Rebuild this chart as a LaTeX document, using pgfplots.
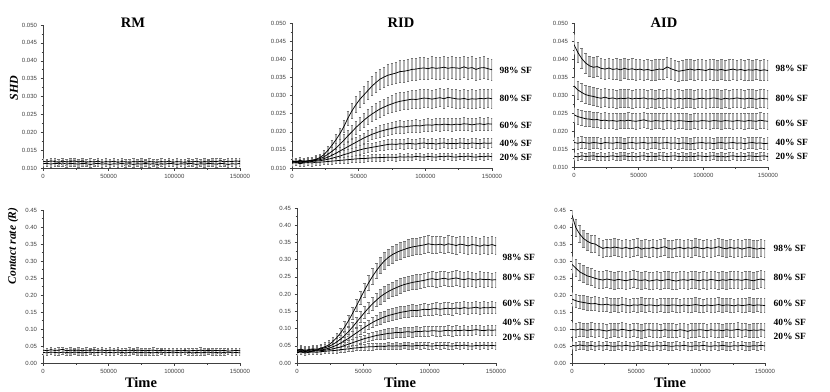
\documentclass[border=0pt]{standalone}
\usepackage{fontspec}
\setmainfont{Liberation Serif}
\newfontfamily\ticksf{Liberation Sans}
\usepackage{pgfplots}
\usepackage{pgfplotstable}
\pgfplotsset{compat=1.18}

\tikzset{barcol/.style={draw=black!30, line width=2.2pt},
         capcol/.style={draw=black!55, line width=0.5pt}}
\pgfplotsset{
  panel/.style={
    scale only axis,
    axis x line*=bottom, axis y line*=left,
    axis line style={black!75, line width=0.5pt},
    xmin=0, xmax=150000,
    xtick={0,50000,100000,150000},
    minor x tick num=1, minor y tick num=1,
    tick align=outside,
    tick style={black!75, line width=0.4pt},
    major tick length=2.5pt, minor tick length=1.5pt,
    scaled x ticks=false, scaled y ticks=false,
    tick label style={font=\ticksf\fontsize{6}{7}\selectfont, text=black!75},
    xticklabel style={/pgf/number format/.cd, fixed, 1000 sep={}, assume math mode=true},
  },
  shd/.style={panel, ymin=0.010, ymax=0.050,
    ytick={0.010,0.015,0.020,0.025,0.030,0.035,0.040,0.045,0.050},
    yticklabel style={/pgf/number format/.cd, fixed, fixed zerofill, precision=3, assume math mode=true}},
  cr/.style={panel, ymin=0, ymax=0.45,
    ytick={0,0.05,0.10,0.15,0.20,0.25,0.30,0.35,0.40,0.45},
    yticklabel style={/pgf/number format/.cd, fixed, fixed zerofill, precision=2, assume math mode=true}},
  bandx/.style={forget plot, draw=none, mark=none,
    error bars/.cd, y dir=both, y explicit,
    error bar style={barcol}, error mark options={rotate=90, capcol, mark size=1.3pt}},
  bandf/.style={forget plot, draw=none, mark=none,
    error bars/.cd, y dir=both, y fixed=#1,
    error bar style={barcol}, error mark options={rotate=90, capcol, mark size=1.3pt}},
  mean/.style={black, line width=0.75pt, mark=none},
}

% RM: two runs per measure (a,b = SHD; c,d = contact rate)
\pgfplotstableread{
x a b c d
0 .0119 .0112 .038 .031
3000 .0117 .0113 .036 .030
6000 .0120 .0111 .039 .032
9000 .0118 .0113 .037 .031
12000 .0116 .0112 .038 .030
15000 .0119 .0114 .040 .032
18000 .0117 .0111 .036 .031
21000 .0118 .0113 .038 .030
24000 .0120 .0112 .037 .032
27000 .0117 .0111 .038 .031
30000 .0119 .0113 .036 .030
33000 .0116 .0112 .038 .031
36000 .0118 .0110 .037 .032
39000 .0117 .0112 .039 .030
42000 .0119 .0113 .037 .031
45000 .0116 .0111 .038 .032
48000 .0118 .0112 .036 .030
51000 .0117 .0110 .038 .031
54000 .0119 .0112 .037 .030
57000 .0116 .0111 .038 .032
60000 .0118 .0113 .036 .031
63000 .0117 .0111 .037 .030
66000 .0116 .0112 .038 .031
69000 .0118 .0110 .036 .032
72000 .0117 .0112 .038 .030
75000 .0119 .0111 .037 .031
78000 .0116 .0113 .036 .030
81000 .0118 .0111 .037 .031
84000 .0117 .0112 .038 .030
87000 .0116 .0110 .036 .031
90000 .0118 .0112 .037 .032
93000 .0117 .0111 .036 .030
96000 .0119 .0113 .037 .031
99000 .0116 .0112 .035 .030
102000 .0118 .0110 .037 .031
105000 .0117 .0112 .036 .030
108000 .0116 .0111 .037 .032
111000 .0118 .0113 .035 .031
114000 .0117 .0112 .037 .030
117000 .0119 .0110 .036 .031
120000 .0116 .0112 .038 .030
123000 .0118 .0111 .036 .031
126000 .0117 .0113 .037 .032
129000 .0119 .0112 .036 .030
132000 .0118 .0111 .037 .031
135000 .0120 .0113 .036 .030
138000 .0117 .0112 .037 .031
141000 .0119 .0110 .035 .032
144000 .0118 .0112 .036 .030
147000 .0120 .0111 .037 .031
150000 .0118 .0113 .036 .030
}\rmdata

% RID, SHD: mean and sd for 98/80/60/40/20% SF
\pgfplotstableread{
x y98 e98 y80 e80 y60 e60 y40 e40 y20 e20
0 .0118 .0009 .0120 .0009 .0117 .0009 .0115 .0009 .0113 .0008
3000 .0116 .0009 .0118 .0009 .0119 .0009 .0117 .0009 .0115 .0008
6000 .0119 .0009 .0121 .0009 .0116 .0009 .0114 .0009 .0112 .0008
9000 .0117 .0009 .0119 .0009 .0118 .0009 .0116 .0009 .0114 .0008
12000 .0119 .0009 .0120 .0009 .0119 .0009 .0117 .0009 .0115 .0008
15000 .0121 .0010 .0122 .0009 .0120 .0009 .0118 .0009 .0114 .0008
18000 .0124 .0010 .0123 .0010 .0121 .0009 .0119 .0009 .0116 .0008
21000 .0129 .0010 .0126 .0010 .0123 .0009 .0120 .0009 .0116 .0008
24000 .0137 .0011 .0131 .0010 .0126 .0010 .0122 .0009 .0117 .0008
27000 .0149 .0012 .0138 .0011 .0130 .0010 .0124 .0009 .0118 .0008
30000 .0163 .0013 .0146 .0012 .0135 .0010 .0127 .0010 .0119 .0008
33000 .0178 .0014 .0155 .0013 .0141 .0011 .0130 .0010 .0120 .0008
36000 .0195 .0016 .0166 .0014 .0147 .0011 .0133 .0010 .0121 .0009
39000 .0215 .0017 .0177 .0015 .0153 .0012 .0137 .0011 .0122 .0009
42000 .0238 .0019 .0189 .0016 .0159 .0012 .0140 .0011 .0123 .0009
45000 .0258 .0021 .0200 .0017 .0165 .0013 .0144 .0011 .0124 .0009
48000 .0275 .0022 .0212 .0018 .0171 .0013 .0147 .0011 .0125 .0009
51000 .0290 .0023 .0222 .0019 .0177 .0014 .0150 .0012 .0126 .0009
54000 .0302 .0024 .0232 .0020 .0183 .0014 .0153 .0012 .0126 .0009
57000 .0314 .0025 .0241 .0020 .0188 .0015 .0155 .0012 .0127 .0009
60000 .0326 .0026 .0249 .0021 .0193 .0015 .0157 .0012 .0128 .0009
63000 .0336 .0027 .0256 .0022 .0197 .0015 .0159 .0012 .0128 .0009
66000 .0345 .0028 .0263 .0022 .0201 .0016 .0161 .0013 .0129 .0009
69000 .0351 .0028 .0268 .0023 .0204 .0016 .0163 .0013 .0129 .0009
72000 .0356 .0029 .0273 .0023 .0207 .0016 .0165 .0013 .0130 .0009
75000 .0359 .0029 .0277 .0024 .0209 .0016 .0166 .0013 .0130 .0009
78000 .0362 .0029 .0281 .0024 .0212 .0016 .0165 .0013 .0129 .0009
81000 .0366 .0030 .0284 .0024 .0214 .0017 .0167 .0013 .0131 .0009
84000 .0367 .0030 .0286 .0024 .0213 .0017 .0166 .0013 .0130 .0009
87000 .0369 .0030 .0288 .0025 .0215 .0017 .0168 .0013 .0131 .0009
90000 .0372 .0030 .0290 .0025 .0216 .0017 .0167 .0013 .0130 .0009
93000 .0373 .0030 .0289 .0025 .0217 .0017 .0166 .0013 .0132 .0009
96000 .0375 .0030 .0291 .0025 .0216 .0017 .0168 .0013 .0131 .0009
99000 .0376 .0030 .0293 .0025 .0218 .0017 .0169 .0013 .0130 .0009
102000 .0374 .0030 .0292 .0025 .0219 .0017 .0167 .0013 .0132 .0009
105000 .0377 .0030 .0290 .0025 .0218 .0017 .0168 .0013 .0131 .0009
108000 .0375 .0030 .0292 .0025 .0220 .0017 .0166 .0013 .0130 .0009
111000 .0376 .0030 .0294 .0025 .0219 .0017 .0168 .0013 .0132 .0009
114000 .0378 .0030 .0291 .0025 .0221 .0017 .0169 .0013 .0131 .0009
117000 .0375 .0030 .0295 .0025 .0220 .0017 .0167 .0013 .0133 .0009
120000 .0377 .0030 .0293 .0025 .0219 .0017 .0168 .0013 .0131 .0009
123000 .0376 .0030 .0291 .0025 .0221 .0017 .0167 .0013 .0130 .0009
126000 .0375 .0030 .0290 .0025 .0220 .0017 .0169 .0013 .0132 .0009
129000 .0379 .0030 .0292 .0025 .0222 .0017 .0168 .0013 .0131 .0009
132000 .0375 .0030 .0289 .0025 .0221 .0017 .0167 .0013 .0133 .0009
135000 .0377 .0030 .0291 .0025 .0219 .0017 .0169 .0013 .0131 .0009
138000 .0372 .0030 .0290 .0025 .0221 .0017 .0168 .0013 .0130 .0009
141000 .0376 .0030 .0292 .0025 .0222 .0017 .0167 .0013 .0132 .0009
144000 .0377 .0030 .0291 .0025 .0220 .0017 .0169 .0013 .0131 .0009
147000 .0374 .0030 .0293 .0025 .0222 .0017 .0168 .0013 .0133 .0009
150000 .0371 .0030 .0291 .0025 .0221 .0017 .0169 .0013 .0131 .0009
}\ridshd

% RID, contact rate
\pgfplotstableread{
x y98 e98 y80 e80 y60 e60 y40 e40 y20 e20
0 .038 .011 .036 .010 .034 .009 .032 .008 .030 .007
3000 .040 .011 .038 .010 .036 .009 .034 .008 .032 .007
6000 .037 .011 .035 .010 .033 .009 .031 .008 .029 .007
9000 .039 .011 .037 .010 .035 .009 .033 .008 .031 .007
12000 .041 .011 .039 .010 .036 .009 .034 .008 .032 .007
15000 .040 .011 .038 .010 .037 .009 .035 .008 .031 .007
18000 .043 .012 .041 .010 .038 .009 .036 .008 .033 .007
21000 .047 .012 .044 .011 .040 .009 .037 .008 .034 .007
24000 .053 .012 .048 .011 .043 .010 .039 .009 .035 .007
27000 .062 .013 .054 .011 .047 .010 .041 .009 .036 .008
30000 .074 .013 .061 .012 .052 .010 .044 .009 .037 .008
33000 .088 .014 .070 .012 .058 .011 .047 .009 .039 .008
36000 .105 .015 .080 .013 .065 .011 .051 .010 .040 .008
39000 .124 .016 .092 .013 .072 .012 .055 .010 .041 .008
42000 .145 .017 .105 .014 .080 .012 .059 .010 .043 .008
45000 .167 .018 .119 .015 .088 .013 .063 .011 .044 .008
48000 .190 .019 .133 .016 .096 .013 .067 .011 .045 .009
51000 .212 .020 .147 .017 .104 .014 .071 .011 .046 .009
54000 .233 .021 .160 .017 .111 .014 .074 .012 .047 .009
57000 .252 .022 .172 .018 .118 .015 .077 .012 .047 .009
60000 .269 .022 .183 .019 .124 .015 .080 .012 .048 .009
63000 .284 .024 .193 .021 .129 .017 .082 .014 .049 .009
66000 .297 .024 .201 .021 .134 .017 .084 .014 .048 .009
69000 .307 .024 .208 .021 .138 .017 .086 .014 .050 .009
72000 .315 .024 .214 .021 .141 .017 .087 .014 .049 .009
75000 .321 .024 .219 .021 .144 .017 .089 .014 .050 .009
78000 .326 .024 .224 .021 .147 .017 .088 .014 .049 .009
81000 .330 .024 .228 .021 .149 .017 .090 .014 .051 .009
84000 .334 .024 .231 .021 .151 .017 .091 .014 .050 .009
87000 .337 .024 .234 .021 .153 .017 .089 .014 .049 .009
90000 .339 .024 .236 .021 .152 .017 .092 .014 .051 .009
93000 .341 .024 .238 .021 .154 .017 .091 .014 .050 .009
96000 .343 .024 .240 .021 .156 .017 .093 .014 .052 .009
99000 .346 .024 .243 .021 .155 .017 .092 .014 .050 .009
102000 .344 .024 .245 .021 .157 .017 .094 .014 .049 .009
105000 .343 .024 .242 .021 .158 .017 .093 .014 .051 .009
108000 .345 .024 .244 .021 .156 .017 .092 .014 .050 .009
111000 .342 .024 .246 .021 .158 .017 .094 .014 .052 .009
114000 .346 .024 .243 .021 .159 .017 .095 .014 .050 .009
117000 .344 .024 .245 .021 .157 .017 .093 .014 .049 .009
120000 .341 .024 .247 .021 .160 .017 .095 .014 .051 .009
123000 .345 .024 .244 .021 .158 .017 .094 .014 .050 .009
126000 .343 .024 .242 .021 .161 .017 .096 .014 .052 .009
129000 .340 .024 .245 .021 .159 .017 .094 .014 .050 .009
132000 .344 .024 .243 .021 .160 .017 .095 .014 .049 .009
135000 .342 .024 .241 .021 .162 .017 .097 .014 .051 .009
138000 .339 .024 .244 .021 .159 .017 .095 .014 .050 .009
141000 .343 .024 .242 .021 .161 .017 .094 .014 .052 .009
144000 .341 .024 .243 .021 .160 .017 .096 .014 .050 .009
147000 .344 .024 .241 .021 .162 .017 .095 .014 .051 .009
150000 .340 .024 .242 .021 .160 .017 .096 .014 .050 .009
}\ridcr

% AID, SHD
\pgfplotstableread{
x y98 y80 y60 y40 y20
0 .0440 .0325 .0245 .0168 .0130
3000 .0418 .0314 .0240 .0166 .0128
6000 .0401 .0307 .0237 .0169 .0131
9000 .0389 .0301 .0234 .0167 .0129
12000 .0381 .0298 .0233 .0166 .0130
15000 .0377 .0296 .0231 .0168 .0131
18000 .0379 .0293 .0232 .0167 .0129
21000 .0374 .0291 .0229 .0165 .0130
24000 .0372 .0294 .0230 .0168 .0128
27000 .0375 .0290 .0228 .0167 .0130
30000 .0371 .0292 .0229 .0166 .0131
33000 .0373 .0289 .0227 .0168 .0129
36000 .0370 .0291 .0229 .0167 .0130
39000 .0374 .0290 .0228 .0165 .0131
42000 .0371 .0292 .0230 .0167 .0129
45000 .0373 .0289 .0228 .0168 .0130
48000 .0370 .0291 .0227 .0166 .0128
51000 .0372 .0290 .0229 .0167 .0130
54000 .0369 .0292 .0231 .0168 .0131
57000 .0371 .0289 .0228 .0166 .0129
60000 .0368 .0290 .0227 .0167 .0130
63000 .0370 .0288 .0229 .0168 .0129
66000 .0372 .0291 .0228 .0166 .0131
69000 .0371 .0289 .0227 .0167 .0130
72000 .0378 .0292 .0229 .0168 .0129
75000 .0373 .0290 .0228 .0166 .0130
78000 .0369 .0288 .0227 .0167 .0131
81000 .0366 .0291 .0229 .0165 .0129
84000 .0368 .0289 .0228 .0167 .0130
87000 .0370 .0291 .0227 .0166 .0128
90000 .0372 .0290 .0226 .0164 .0130
93000 .0369 .0288 .0228 .0166 .0129
96000 .0371 .0290 .0227 .0167 .0131
99000 .0370 .0291 .0229 .0168 .0130
102000 .0368 .0289 .0228 .0166 .0129
105000 .0372 .0290 .0227 .0167 .0130
108000 .0370 .0292 .0229 .0165 .0131
111000 .0369 .0290 .0228 .0167 .0129
114000 .0371 .0288 .0227 .0168 .0130
117000 .0368 .0291 .0229 .0166 .0128
120000 .0370 .0289 .0228 .0167 .0130
123000 .0372 .0290 .0227 .0168 .0131
126000 .0369 .0292 .0229 .0166 .0129
129000 .0371 .0290 .0228 .0167 .0130
132000 .0368 .0289 .0227 .0165 .0129
135000 .0370 .0291 .0229 .0167 .0131
138000 .0369 .0290 .0228 .0168 .0130
141000 .0371 .0288 .0227 .0166 .0129
144000 .0368 .0291 .0230 .0167 .0130
147000 .0370 .0290 .0228 .0165 .0131
150000 .0368 .0289 .0227 .0166 .0129
}\aidshd

% AID, contact rate
\pgfplotstableread{
x y98 y80 y60 y40 y20
0 .435 .290 .188 .099 .052
3000 .398 .279 .183 .097 .050
6000 .379 .268 .180 .100 .053
9000 .366 .262 .178 .098 .051
12000 .358 .256 .176 .096 .050
15000 .352 .253 .174 .099 .052
18000 .350 .249 .175 .097 .049
21000 .343 .246 .172 .098 .051
24000 .337 .244 .171 .096 .050
27000 .340 .247 .173 .094 .052
30000 .338 .245 .170 .097 .050
33000 .341 .243 .171 .098 .049
36000 .339 .246 .169 .096 .051
39000 .337 .244 .172 .099 .050
42000 .340 .242 .170 .097 .052
45000 .336 .245 .168 .095 .050
48000 .338 .247 .171 .098 .049
51000 .341 .244 .170 .096 .051
54000 .335 .243 .172 .094 .050
57000 .338 .245 .169 .097 .052
60000 .337 .241 .171 .098 .050
63000 .340 .243 .170 .096 .049
66000 .336 .245 .168 .097 .051
69000 .339 .242 .171 .095 .050
72000 .342 .244 .170 .098 .052
75000 .337 .246 .169 .096 .050
78000 .335 .243 .171 .097 .049
81000 .338 .241 .170 .095 .051
84000 .340 .244 .168 .098 .050
87000 .336 .245 .171 .096 .052
90000 .339 .243 .169 .093 .050
93000 .337 .246 .170 .097 .049
96000 .341 .244 .172 .096 .051
99000 .338 .242 .170 .098 .050
102000 .336 .245 .168 .097 .052
105000 .340 .243 .171 .095 .050
108000 .337 .246 .169 .098 .049
111000 .339 .244 .170 .096 .051
114000 .342 .242 .172 .097 .050
117000 .338 .245 .169 .095 .052
120000 .336 .243 .171 .098 .050
123000 .340 .246 .170 .096 .049
126000 .337 .244 .168 .097 .051
129000 .339 .245 .171 .099 .050
132000 .335 .243 .169 .096 .052
135000 .338 .246 .170 .098 .050
138000 .340 .244 .172 .095 .049
141000 .337 .242 .169 .097 .051
144000 .335 .245 .171 .096 .050
147000 .338 .247 .170 .098 .052
150000 .336 .244 .169 .096 .050
}\aidcr

\begin{document}
\begin{tikzpicture}[x=1pt, y=1pt]
\path[use as bounding box] (0,0) rectangle (830,-391);

%% ---- top row: SHD ----
\begin{axis}[shd, at={(43pt,-168pt)}, anchor=south west, width=197pt, height=143pt]
\addplot[bandf=0.0008] table[x=x, y=a] {\rmdata};
\addplot[bandf=0.0008] table[x=x, y=b] {\rmdata};
\addplot[mean] table[x=x, y=a] {\rmdata};
\addplot[mean] table[x=x, y=b] {\rmdata};
\end{axis}

\begin{axis}[shd, at={(292pt,-168pt)}, anchor=south west, width=200pt, height=145pt]
\foreach \s in {98,80,60,40,20} {
  \addplot[bandx] table[x=x, y=y\s, y error=e\s] {\ridshd};
}
\foreach \s in {98,80,60,40,20} {
  \addplot[mean] table[x=x, y=y\s] {\ridshd};
}
\end{axis}

\begin{axis}[shd, at={(574pt,-167pt)}, anchor=south west, width=194pt, height=144pt]
\addplot[bandf=0.0028] table[x=x, y=y98] {\aidshd};
\addplot[bandf=0.0025] table[x=x, y=y80] {\aidshd};
\addplot[bandf=0.0021] table[x=x, y=y60] {\aidshd};
\addplot[bandf=0.0016] table[x=x, y=y40] {\aidshd};
\addplot[bandf=0.0010] table[x=x, y=y20] {\aidshd};
\foreach \s in {98,80,60,40,20} {
  \addplot[mean] table[x=x, y=y\s] {\aidshd};
}
\end{axis}

%% ---- bottom row: contact rate ----
\begin{axis}[cr, at={(43pt,-363pt)}, anchor=south west, width=197pt, height=153pt]
\addplot[bandf=0.007] table[x=x, y=c] {\rmdata};
\addplot[bandf=0.007] table[x=x, y=d] {\rmdata};
\addplot[mean] table[x=x, y=c] {\rmdata};
\addplot[mean] table[x=x, y=d] {\rmdata};
\end{axis}

\begin{axis}[cr, at={(297pt,-363pt)}, anchor=south west, width=199pt, height=155pt]
\foreach \s in {98,80,60,40,20} {
  \addplot[bandx] table[x=x, y=y\s, y error=e\s] {\ridcr};
}
\foreach \s in {98,80,60,40,20} {
  \addplot[mean] table[x=x, y=y\s] {\ridcr};
}
\end{axis}

\begin{axis}[cr, at={(572pt,-363pt)}, anchor=south west, width=193pt, height=153pt]
\addplot[bandf=0.025] table[x=x, y=y98] {\aidcr};
\addplot[bandf=0.025] table[x=x, y=y80] {\aidcr};
\addplot[bandf=0.020] table[x=x, y=y60] {\aidcr};
\addplot[bandf=0.020] table[x=x, y=y40] {\aidcr};
\addplot[bandf=0.012] table[x=x, y=y20] {\aidcr};
\foreach \s in {98,80,60,40,20} {
  \addplot[mean] table[x=x, y=y\s] {\aidcr};
}
\end{axis}

%% ---- titles and labels ----
\tikzset{ttl/.style={font=\fontsize{14.5}{16}\selectfont\bfseries, anchor=base},
         sf/.style={font=\fontsize{9.5}{11}\selectfont\bfseries, anchor=west}}
\node[ttl] at (133,-27) {RM};
\node[ttl] at (401,-27) {RID};
\node[ttl] at (664,-27) {AID};
\node[font=\fontsize{12}{14}\selectfont\bfseries\itshape, rotate=90] at (14,-88) {SHD};
\node[font=\fontsize{11.5}{14}\selectfont\bfseries\itshape, rotate=90] at (13,-246) {Contact rate (R)};
\node[ttl] at (141,-387) {Time};
\node[ttl] at (400,-387) {Time};
\node[ttl] at (670,-387) {Time};

\node[sf] at (496,-70) {98\% SF};
\node[sf] at (496,-98) {80\% SF};
\node[sf] at (496,-125) {60\% SF};
\node[sf] at (496,-143) {40\% SF};
\node[sf] at (496,-157) {20\% SF};

\node[sf] at (772,-68) {98\% SF};
\node[sf] at (772,-98) {80\% SF};
\node[sf] at (772,-123) {60\% SF};
\node[sf] at (772,-142) {40\% SF};
\node[sf] at (772,-156) {20\% SF};

\node[sf] at (499,-257) {98\% SF};
\node[sf] at (499,-277) {80\% SF};
\node[sf] at (499,-303) {60\% SF};
\node[sf] at (499,-322) {40\% SF};
\node[sf] at (499,-337) {20\% SF};

\node[sf] at (770,-248) {98\% SF};
\node[sf] at (770,-277) {80\% SF};
\node[sf] at (770,-303) {60\% SF};
\node[sf] at (770,-322) {40\% SF};
\node[sf] at (770,-336) {20\% SF};
\end{tikzpicture}
\end{document}
